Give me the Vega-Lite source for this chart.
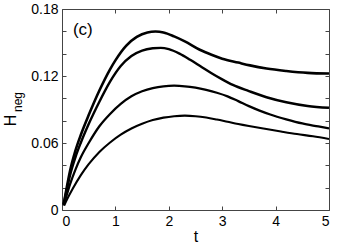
{
  "$schema": "https://vega.github.io/schema/vega-lite/v6.json",
  "autosize": "none",
  "width": 267,
  "height": 201,
  "padding": {"left": 62, "top": 9, "right": 20, "bottom": 39},
  "background": "white",
  "config": {
    "view": {"stroke": null},
    "font": "Liberation Sans",
    "axis": {"grid": false, "domainColor": "#444", "tickColor": "#444", "labelColor": "black", "titleColor": "black", "labelFont": "Liberation Sans", "titleFont": "Liberation Sans", "labelFontSize": 14, "titleFontWeight": "normal"}
  },
  "datasets": {
    "curves": [
      {"s": "c1", "t": 0.03, "h": 0.005}, {"s": "c1", "t": 0.08, "h": 0.018}, {"s": "c1", "t": 0.15, "h": 0.035}, {"s": "c1", "t": 0.25, "h": 0.053}, {"s": "c1", "t": 0.35, "h": 0.067}, {"s": "c1", "t": 0.5, "h": 0.085}, {"s": "c1", "t": 0.7, "h": 0.107}, {"s": "c1", "t": 0.9, "h": 0.126}, {"s": "c1", "t": 1.0, "h": 0.134}, {"s": "c1", "t": 1.2, "h": 0.147}, {"s": "c1", "t": 1.4, "h": 0.155}, {"s": "c1", "t": 1.6, "h": 0.159}, {"s": "c1", "t": 1.75, "h": 0.1598}, {"s": "c1", "t": 1.9, "h": 0.159}, {"s": "c1", "t": 2.1, "h": 0.1555}, {"s": "c1", "t": 2.3, "h": 0.151}, {"s": "c1", "t": 2.58, "h": 0.1435}, {"s": "c1", "t": 2.8, "h": 0.139}, {"s": "c1", "t": 3.0, "h": 0.1355}, {"s": "c1", "t": 3.3, "h": 0.132}, {"s": "c1", "t": 3.52, "h": 0.1295}, {"s": "c1", "t": 3.83, "h": 0.1267}, {"s": "c1", "t": 4.2, "h": 0.1245}, {"s": "c1", "t": 4.6, "h": 0.1228}, {"s": "c1", "t": 5.0, "h": 0.1222},
      {"s": "c2", "t": 0.03, "h": 0.005}, {"s": "c2", "t": 0.08, "h": 0.016}, {"s": "c2", "t": 0.15, "h": 0.031}, {"s": "c2", "t": 0.25, "h": 0.047}, {"s": "c2", "t": 0.35, "h": 0.060}, {"s": "c2", "t": 0.5, "h": 0.077}, {"s": "c2", "t": 0.7, "h": 0.097}, {"s": "c2", "t": 0.9, "h": 0.115}, {"s": "c2", "t": 1.1, "h": 0.129}, {"s": "c2", "t": 1.3, "h": 0.138}, {"s": "c2", "t": 1.5, "h": 0.1428}, {"s": "c2", "t": 1.7, "h": 0.1448}, {"s": "c2", "t": 1.85, "h": 0.1452}, {"s": "c2", "t": 2.0, "h": 0.144}, {"s": "c2", "t": 2.2, "h": 0.14}, {"s": "c2", "t": 2.4, "h": 0.1345}, {"s": "c2", "t": 2.6, "h": 0.1285}, {"s": "c2", "t": 2.8, "h": 0.1225}, {"s": "c2", "t": 3.0, "h": 0.117}, {"s": "c2", "t": 3.2, "h": 0.112}, {"s": "c2", "t": 3.5, "h": 0.1065}, {"s": "c2", "t": 3.83, "h": 0.101}, {"s": "c2", "t": 4.2, "h": 0.0965}, {"s": "c2", "t": 4.6, "h": 0.0932}, {"s": "c2", "t": 5.0, "h": 0.0915},
      {"s": "c3", "t": 0.03, "h": 0.004}, {"s": "c3", "t": 0.08, "h": 0.012}, {"s": "c3", "t": 0.15, "h": 0.023}, {"s": "c3", "t": 0.25, "h": 0.036}, {"s": "c3", "t": 0.35, "h": 0.047}, {"s": "c3", "t": 0.5, "h": 0.06}, {"s": "c3", "t": 0.7, "h": 0.075}, {"s": "c3", "t": 0.9, "h": 0.086}, {"s": "c3", "t": 1.1, "h": 0.095}, {"s": "c3", "t": 1.3, "h": 0.1018}, {"s": "c3", "t": 1.5, "h": 0.1063}, {"s": "c3", "t": 1.7, "h": 0.1092}, {"s": "c3", "t": 1.9, "h": 0.1108}, {"s": "c3", "t": 2.1, "h": 0.1113}, {"s": "c3", "t": 2.3, "h": 0.1108}, {"s": "c3", "t": 2.5, "h": 0.1095}, {"s": "c3", "t": 2.7, "h": 0.1075}, {"s": "c3", "t": 2.9, "h": 0.105}, {"s": "c3", "t": 3.1, "h": 0.1018}, {"s": "c3", "t": 3.3, "h": 0.0975}, {"s": "c3", "t": 3.5, "h": 0.093}, {"s": "c3", "t": 3.7, "h": 0.089}, {"s": "c3", "t": 3.9, "h": 0.0855}, {"s": "c3", "t": 4.2, "h": 0.0812}, {"s": "c3", "t": 4.5, "h": 0.0775}, {"s": "c3", "t": 4.8, "h": 0.0748}, {"s": "c3", "t": 5.0, "h": 0.073},
      {"s": "c4", "t": 0.04, "h": 0.004}, {"s": "c4", "t": 0.1, "h": 0.01}, {"s": "c4", "t": 0.2, "h": 0.019}, {"s": "c4", "t": 0.35, "h": 0.031}, {"s": "c4", "t": 0.5, "h": 0.041}, {"s": "c4", "t": 0.7, "h": 0.052}, {"s": "c4", "t": 0.9, "h": 0.0605}, {"s": "c4", "t": 1.1, "h": 0.0675}, {"s": "c4", "t": 1.3, "h": 0.073}, {"s": "c4", "t": 1.5, "h": 0.0772}, {"s": "c4", "t": 1.7, "h": 0.0805}, {"s": "c4", "t": 1.9, "h": 0.0827}, {"s": "c4", "t": 2.1, "h": 0.084}, {"s": "c4", "t": 2.3, "h": 0.0845}, {"s": "c4", "t": 2.5, "h": 0.084}, {"s": "c4", "t": 2.7, "h": 0.0828}, {"s": "c4", "t": 2.9, "h": 0.081}, {"s": "c4", "t": 3.1, "h": 0.079}, {"s": "c4", "t": 3.3, "h": 0.077}, {"s": "c4", "t": 3.5, "h": 0.0752}, {"s": "c4", "t": 3.8, "h": 0.0727}, {"s": "c4", "t": 4.1, "h": 0.0703}, {"s": "c4", "t": 4.4, "h": 0.068}, {"s": "c4", "t": 4.7, "h": 0.066}, {"s": "c4", "t": 5.0, "h": 0.0636}
    ],
    "labels": [
      {"label": "(c)", "t": 0.39, "h": 0.161}
    ],
    "sub": [
      {"label": "neg", "t": -0.83, "h": 0.0967}
    ]
  },
  "layer": [
    {
      "data": {"name": "curves"},
      "mark": {"type": "line", "interpolate": "monotone", "color": "black", "clip": true},
      "encoding": {
        "x": {"field": "t", "type": "quantitative", "scale": {"domain": [0, 5], "nice": false, "zero": false},
          "axis": {"orient": "bottom", "values": [0, 1, 2, 3, 4, 5], "tickSize": -4, "labelPadding": 8, "title": "t", "titleFontSize": 16, "titlePadding": 0}},
        "y": {"field": "h", "type": "quantitative", "scale": {"domain": [0, 0.18], "nice": false, "zero": false},
          "axis": {"orient": "left", "values": [0, 0.02, 0.04, 0.06, 0.08, 0.1, 0.12, 0.14, 0.16, 0.18], "tickSize": -4, "labelPadding": 8,
            "labelExpr": "abs(datum.value/0.06 - round(datum.value/0.06)) < 0.001 ? (datum.value == 0 ? '0' : format(datum.value, '.2f')) : ''",
            "title": "H", "titleFontSize": 16, "titleAngle": 270, "titleX": -44, "titleY": 111, "titleAlign": "center", "titleBaseline": "bottom"}},
        "strokeWidth": {"field": "s", "type": "nominal", "scale": {"domain": ["c1", "c2", "c3", "c4"], "range": [2.6, 2.1, 1.4, 1.0]}, "legend": null}
      }
    },
    {
      "data": {"name": "labels"},
      "mark": {"type": "text", "fontSize": 17, "color": "black", "font": "Liberation Sans"},
      "encoding": {
        "x": {"field": "t", "type": "quantitative", "axis": {"orient": "top", "values": [0, 1, 2, 3, 4, 5], "tickSize": -4, "labels": false, "title": null}},
        "y": {"field": "h", "type": "quantitative", "axis": {"orient": "right", "values": [0, 0.02, 0.04, 0.06, 0.08, 0.1, 0.12, 0.14, 0.16, 0.18], "tickSize": -4, "labels": false, "title": null}},
        "text": {"field": "label"}
      }
    },
    {
      "data": {"name": "sub"},
      "mark": {"type": "text", "fontSize": 12, "color": "black", "angle": 270, "font": "Liberation Sans"},
      "encoding": {
        "x": {"field": "t", "type": "quantitative", "axis": null},
        "y": {"field": "h", "type": "quantitative", "axis": null},
        "text": {"field": "label"}
      }
    }
  ],
  "resolve": {"axis": {"x": "independent", "y": "independent"}}
}
